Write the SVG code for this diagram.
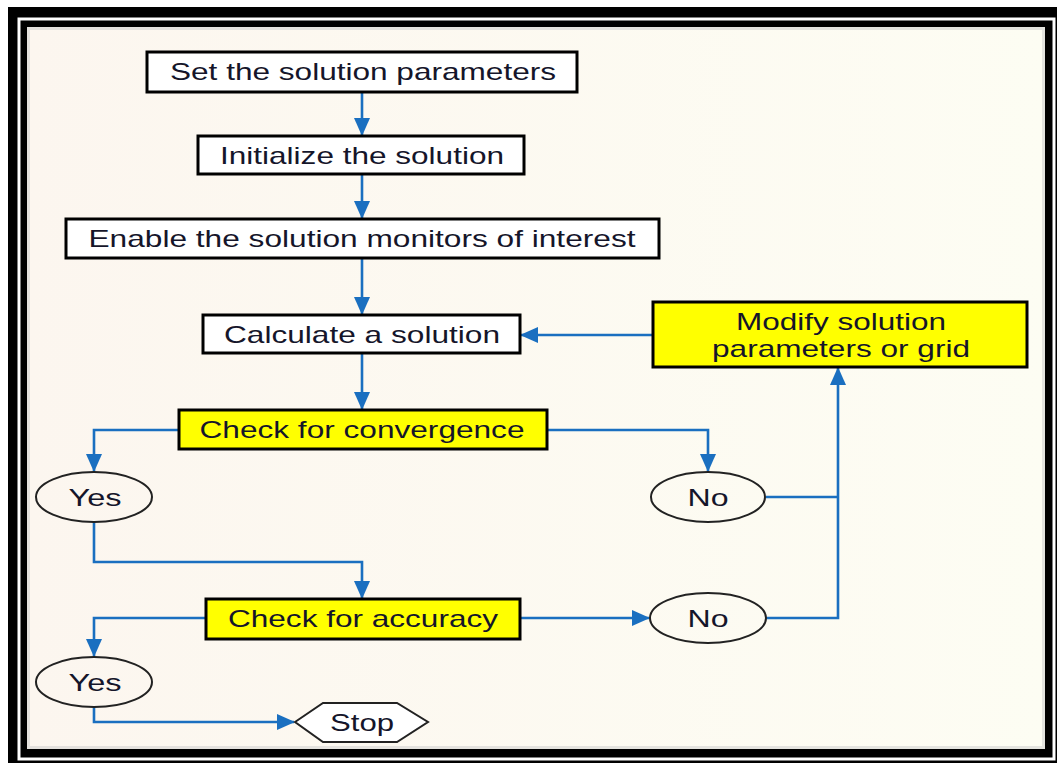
<svg xmlns="http://www.w3.org/2000/svg" width="1058" height="765" viewBox="0 0 1058 765">
<defs>
<linearGradient id="bg" x1="0" y1="0" x2="1" y2="0">
<stop offset="0" stop-color="#fcf6ef"/>
<stop offset="1" stop-color="#fdfdf3"/>
</linearGradient>
<marker id="ah" markerUnits="userSpaceOnUse" markerWidth="18" markerHeight="16" refX="17" refY="8" orient="auto">
<path d="M0,0 L18,8 L0,16 Z" fill="#1a6fc0"/>
</marker>
</defs>
<style>
.box{stroke:#000;stroke-width:3;fill:#fff}
.yel{stroke:#000;stroke-width:3;fill:#ffff00}
.ell{stroke:#222;stroke-width:2;fill:none}
.hex{stroke:#222;stroke-width:2;fill:#fff}
.t{font-family:"Liberation Sans",Arial,sans-serif;font-size:24px;fill:#15152a;text-anchor:middle}
.c{stroke:#1a6fc0;stroke-width:2.6;fill:none}
.ca{stroke:#1a6fc0;stroke-width:2.6;fill:none;marker-end:url(#ah)}
</style>
<rect x="0" y="0" width="1058" height="765" fill="#fff"/>
<rect x="8" y="7" width="1049" height="756" fill="#000"/>
<rect x="19" y="19" width="1035" height="740" fill="none" stroke="#fff" stroke-width="3"/>
<rect x="27" y="27" width="1018" height="722" fill="url(#bg)"/>
<rect x="28.5" y="28.5" width="1015" height="719" fill="none" stroke="#ccc" stroke-width="3" opacity="0.5"/>

<g id="connectors">
<line class="ca" x1="362" y1="92" x2="362" y2="135"/>
<line class="ca" x1="362" y1="174" x2="362" y2="218"/>
<line class="ca" x1="362" y1="258" x2="362" y2="314"/>
<line class="ca" x1="653" y1="335" x2="521" y2="335"/>
<line class="ca" x1="362" y1="353" x2="362" y2="409"/>
<polyline class="ca" points="179,430 94,430 94,471"/>
<polyline class="ca" points="547,430 708,430 708,471"/>
<line class="c" x1="766" y1="497" x2="838" y2="497"/>
<polyline class="ca" points="766,618 838,618 838,368"/>
<polyline class="ca" points="94,522 94,562 362,562 362,598"/>
<line class="ca" x1="520" y1="618" x2="649" y2="618"/>
<polyline class="ca" points="206,618 94,618 94,656"/>
<polyline class="ca" points="94,707 94,722 294,722"/>
</g>

<g id="set-params"><rect class="box" x="147" y="52" width="430" height="40"/><text class="t" x="363" y="80" textLength="386" lengthAdjust="spacingAndGlyphs">Set the solution parameters</text></g>
<g id="initialize"><rect class="box" x="198" y="136" width="326" height="38"/><text class="t" x="362" y="164" textLength="284" lengthAdjust="spacingAndGlyphs">Initialize the solution</text></g>
<g id="monitors"><rect class="box" x="66" y="219" width="593" height="39"/><text class="t" x="362" y="247" textLength="547" lengthAdjust="spacingAndGlyphs">Enable the solution monitors of interest</text></g>
<g id="calculate"><rect class="box" x="203" y="315" width="317" height="38"/><text class="t" x="362" y="343" textLength="276" lengthAdjust="spacingAndGlyphs">Calculate a solution</text></g>
<g id="modify"><rect class="yel" x="653" y="302" width="374" height="65"/><text class="t" x="841" y="330" textLength="210" lengthAdjust="spacingAndGlyphs">Modify solution</text><text class="t" x="841" y="357" textLength="258" lengthAdjust="spacingAndGlyphs">parameters or grid</text></g>
<g id="convergence"><rect class="yel" x="179" y="410" width="368" height="39"/><text class="t" x="362" y="438" textLength="325" lengthAdjust="spacingAndGlyphs">Check for convergence</text></g>
<g id="yes1"><ellipse class="ell" cx="94" cy="497" rx="58" ry="25"/><text class="t" x="95" y="506" textLength="53" lengthAdjust="spacingAndGlyphs">Yes</text></g>
<g id="no1"><ellipse class="ell" cx="708" cy="497" rx="57" ry="25"/><text class="t" x="708" y="506" textLength="41" lengthAdjust="spacingAndGlyphs">No</text></g>
<g id="accuracy"><rect class="yel" x="206" y="599" width="314" height="40"/><text class="t" x="363" y="627" textLength="270" lengthAdjust="spacingAndGlyphs">Check for accuracy</text></g>
<g id="no2"><ellipse class="ell" cx="708" cy="618" rx="58" ry="25"/><text class="t" x="708" y="627" textLength="41" lengthAdjust="spacingAndGlyphs">No</text></g>
<g id="yes2"><ellipse class="ell" cx="94" cy="682" rx="58" ry="25"/><text class="t" x="95" y="691" textLength="53" lengthAdjust="spacingAndGlyphs">Yes</text></g>
<g id="stop"><polygon class="hex" points="295,722 323,703 397,703 428,722 397,742 323,742"/><text class="t" x="362" y="731" textLength="64" lengthAdjust="spacingAndGlyphs">Stop</text></g>
</svg>
